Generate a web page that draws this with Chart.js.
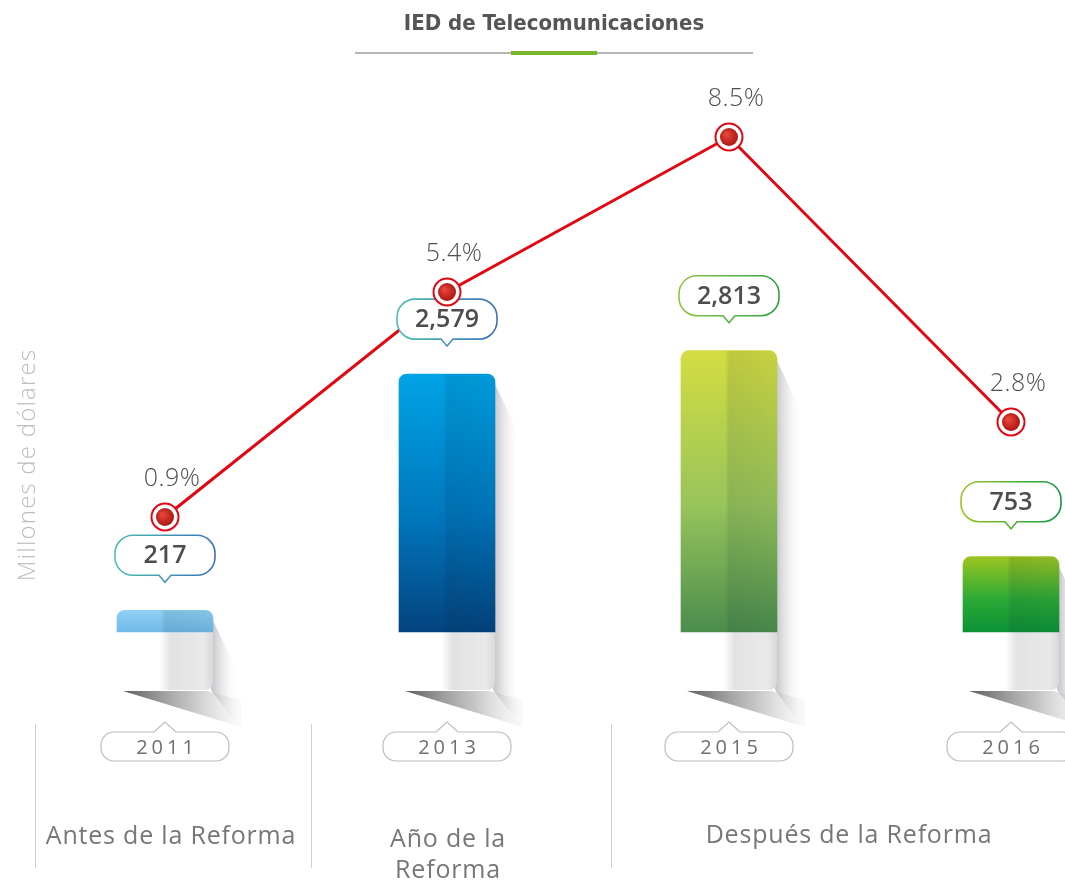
<!DOCTYPE html>
<html>
<head>
<meta charset="utf-8">
<script src="https://cdn.jsdelivr.net/npm/chart.js@4"></script>
<style>
  html, body { margin: 0; padding: 0; background: #fff; }
  canvas { display: block; }
</style>
</head>
<body>
<canvas id="iedChart" width="1065" height="880"></canvas>
<script>
// IED en telecomunicaciones: monto (barras) y participación (línea)
const years = ['2011', '2013', '2015', '2016'];
const inversion = [217, 2579, 2813, 753];      // millones de dólares
const participacion = [0.9, 5.4, 8.5, 2.8];    // % de la IED total
const periodos = ['Antes de la Reforma', 'Año de la\nReforma', 'Después de la Reforma'];

// gradientes de cada barra (arriba -> abajo)
const barStops = [
  ['#8fd0f3', '#7dc4ee', '#70bbe8'],
  ['#00a3e6', '#0077bd', '#04437f'],
  ['#d4dd41', '#97c45b', '#4b8d4d'],
  ['#9cc521', '#2eaa36', '#0b9236']
];
const calloutStroke = [
  ['#4cc0b0', '#3c6fb8'],
  ['#4cc0b0', '#3c6fb8'],
  ['#8cc63f', '#2ea043'],
  ['#9cc521', '#109a45']
];

const SANS = '"Open Sans", "Noto Sans", sans-serif';
const BAR = 3, LINE = 0;   // dataset indexes

function barFill(c) {
  if (c.type !== 'data' || !c.chart.chartArea) return barStops[0][0];
  const y = c.chart.scales.y;
  const top = y.getPixelForValue(inversion[c.dataIndex]);
  const bottom = y.getPixelForValue(0);
  const g = c.chart.ctx.createLinearGradient(0, top, 0, bottom);
  const s = barStops[c.dataIndex];
  g.addColorStop(0, s[0]);
  g.addColorStop(0.55, s[1]);
  g.addColorStop(1, s[2]);
  return g;
}

function dotFill(c) {
  if (c.type !== 'data' || !c.chart.chartArea) return '#c81e1e';
  const x = c.chart.scales.x.getPixelForValue(c.dataIndex);
  const y = c.chart.scales.y2.getPixelForValue(participacion[c.dataIndex]);
  const g = c.chart.ctx.createRadialGradient(x - 3, y - 3, 1, x, y, 10);
  g.addColorStop(0, '#e8463a');
  g.addColorStop(1, '#a8130f');
  return g;
}

// rounded box with optional pointer (down at bottom, up at top)
function bubble(ctx, cx, top, w, h, r, tipDown, tipUp, tipW) {
  const l = cx - w / 2, rt = cx + w / 2, b = top + h;
  ctx.beginPath();
  ctx.moveTo(l + r, top);
  if (tipUp) {
    ctx.lineTo(cx - tipW, top);
    ctx.lineTo(cx, top - tipUp);
    ctx.lineTo(cx + tipW, top);
  }
  ctx.lineTo(rt - r, top);
  ctx.arcTo(rt, top, rt, top + r, r);
  ctx.lineTo(rt, b - r);
  ctx.arcTo(rt, b, rt - r, b, r);
  if (tipDown) {
    ctx.lineTo(cx + tipW, b);
    ctx.lineTo(cx, b + tipDown);
    ctx.lineTo(cx - tipW, b);
  }
  ctx.lineTo(l + r, b);
  ctx.arcTo(l, b, l, b - r, r);
  ctx.lineTo(l, top + r);
  ctx.arcTo(l, top, l + r, top, r);
  ctx.closePath();
}

const decor = {
  id: 'decor',
  beforeDatasetsDraw(chart) {
    const ctx = chart.ctx;
    chart.getDatasetMeta(BAR).data.forEach(bar => {
      const l = bar.x - bar.width / 2, r = bar.x + bar.width / 2, t = bar.y, b = bar.base;
      ctx.save();
      // side shadow
      let g = ctx.createLinearGradient(r, 0, r + 26, 0);
      g.addColorStop(0, 'rgba(80,80,95,0.3)');
      g.addColorStop(1, 'rgba(255,255,255,0)');
      ctx.fillStyle = g;
      ctx.beginPath();
      ctx.moveTo(r - 2, t + 6);
      ctx.lineTo(r + 24, t + 60);
      ctx.lineTo(r + 24, b + 92);
      ctx.lineTo(r - 2, b + 58);
      ctx.closePath();
      ctx.fill();
      // floor shadow
      g = ctx.createLinearGradient(l, 0, r + 30, 0);
      g.addColorStop(0, 'rgba(70,70,70,0.95)');
      g.addColorStop(0.6, 'rgba(150,150,150,0.55)');
      g.addColorStop(1, 'rgba(225,225,225,0.15)');
      ctx.fillStyle = g;
      ctx.beginPath();
      ctx.moveTo(l + 6, b + 59);
      ctx.lineTo(r - 6, b + 59);
      ctx.lineTo(r + 28, b + 68);
      ctx.lineTo(r + 28, b + 95);
      ctx.closePath();
      ctx.fill();
      // pedestal
      g = ctx.createLinearGradient(l, 0, r, 0);
      g.addColorStop(0, '#ffffff');
      g.addColorStop(0.44, '#ffffff');
      g.addColorStop(0.56, '#e2e2e2');
      g.addColorStop(0.9, '#e9e9e9');
      g.addColorStop(1, '#d8d8d8');
      ctx.fillStyle = g;
      ctx.beginPath();
      ctx.roundRect(l + 2, b, r - l - 2, 58, [0, 0, 8, 0]);
      ctx.fill();
      ctx.restore();
    });
  },
  afterDatasetDraw(chart, args) {
    const ctx = chart.ctx;
    if (args.index === BAR) {
      // darker right half of each bar
      args.meta.data.forEach(bar => {
        const r = bar.x + bar.width / 2, t = bar.y, b = bar.base;
        ctx.save();
        const g = ctx.createLinearGradient(bar.x - 4, 0, r, 0);
        g.addColorStop(0, 'rgba(0,20,40,0)');
        g.addColorStop(0.08, 'rgba(0,20,40,0.1)');
        g.addColorStop(1, 'rgba(0,20,40,0.06)');
        ctx.fillStyle = g;
        ctx.beginPath();
        ctx.roundRect(bar.x - 4, t, r - bar.x + 4, b - t, [0, 8, 0, 0]);
        ctx.fill();
        ctx.restore();
      });
    }
    if (args.index === LINE) {
      // value callouts sit over the line but under the markers
      ctx.save();
      chart.getDatasetMeta(BAR).data.forEach((bar, i) => {
        const top = bar.y - 75;
        bubble(ctx, bar.x, top, 100, 40, 18, 7, 0, 6);
        ctx.fillStyle = '#fff';
        ctx.fill();
        const g = ctx.createLinearGradient(bar.x - 50, 0, bar.x + 50, 0);
        g.addColorStop(0, calloutStroke[i][0]);
        g.addColorStop(1, calloutStroke[i][1]);
        ctx.strokeStyle = g;
        ctx.lineWidth = 1.6;
        ctx.stroke();
        ctx.fillStyle = '#4d4d4d';
        ctx.font = '600 25px ' + SANS;
        ctx.textAlign = 'center';
        ctx.textBaseline = 'middle';
        ctx.fillText(inversion[i].toLocaleString('en-US'), bar.x, top + 21);
      });
      ctx.restore();
    }
  },
  afterDatasetsDraw(chart) {
    const ctx = chart.ctx;
    ctx.save();
    // percent labels
    ctx.font = '300 25px ' + SANS;
    ctx.fillStyle = '#4f4f4f';
    ctx.textAlign = 'center';
    ctx.textBaseline = 'middle';
    ctx.letterSpacing = '0.5px';
    chart.getDatasetMeta(LINE).data.forEach((pt, i) => {
      const label = participacion[i].toFixed(1) + '%';
      const w = ctx.measureText(label).width;
      const x = Math.min(pt.x + 7, chart.width - 4 - w / 2);
      ctx.fillText(label, x, pt.y - 38);
    });
    ctx.letterSpacing = '0px';
    ctx.restore();
  },
  afterDraw(chart) {
    const ctx = chart.ctx;
    ctx.save();
    // title + rule
    ctx.fillStyle = '#555';
    ctx.font = 'bold 22px "DejaVu Sans Condensed", "Liberation Sans Narrow", sans-serif';
    ctx.textAlign = 'center';
    ctx.textBaseline = 'middle';
    ctx.fillText('IED de Telecomunicaciones', 554, 24);
    ctx.strokeStyle = '#b5b5b5';
    ctx.lineWidth = 2;
    ctx.beginPath(); ctx.moveTo(355, 53); ctx.lineTo(753, 53); ctx.stroke();
    ctx.strokeStyle = '#78b82a';
    ctx.lineWidth = 4;
    ctx.beginPath(); ctx.moveTo(511, 53); ctx.lineTo(597, 53); ctx.stroke();

    // y axis title
    ctx.save();
    ctx.translate(28, 465);
    ctx.rotate(-Math.PI / 2);
    ctx.fillStyle = '#bdbdbd';
    ctx.font = '300 24px ' + SANS;
    ctx.letterSpacing = '1.2px';
    ctx.fillText('Millones de dólares', 0, 0);
    ctx.restore();

    // year tags
    const xs = chart.scales.x;
    years.forEach((yr, i) => {
      const cx = xs.getPixelForValue(i);
      bubble(ctx, cx, 732, 128, 29, 13, 0, 10, 11);
      ctx.fillStyle = '#fff';
      ctx.fill();
      ctx.strokeStyle = '#bcbcbc';
      ctx.lineWidth = 1.2;
      ctx.stroke();
      ctx.fillStyle = '#6f6f6f';
      ctx.font = '500 20px ' + SANS;
      ctx.letterSpacing = '4px';
      ctx.fillText(yr, cx + 2, 748);
      ctx.letterSpacing = '0px';
    });

    // period separators and labels
    ctx.strokeStyle = '#cfcfcf';
    ctx.lineWidth = 1;
    [35, 311, 611].forEach(x => {
      ctx.beginPath(); ctx.moveTo(x + 0.5, 724); ctx.lineTo(x + 0.5, 868); ctx.stroke();
    });
    ctx.fillStyle = '#777';
    ctx.font = '25px ' + SANS;
    ctx.letterSpacing = '0.8px';
    const labelX = [171, 448, 849];
    const labelY = [837, 840, 836];
    periodos.forEach((p, i) => {
      p.split('\n').forEach((line, k) => ctx.fillText(line, labelX[i], labelY[i] + k * 31));
    });
    ctx.letterSpacing = '0px';
    ctx.restore();
  }
};

new Chart(document.getElementById('iedChart'), {
  type: 'bar',
  data: {
    labels: years,
    datasets: [
      {
        type: 'line',
        label: 'Participación',
        data: participacion,
        yAxisID: 'y2',
        borderColor: '#e30613',
        borderWidth: 3,
        tension: 0,
        pointRadius: 0,
        clip: false,
        order: 2
      },
      {
        type: 'line',
        label: 'aro',
        data: participacion,
        yAxisID: 'y2',
        showLine: false,
        pointRadius: 13.5,
        pointBackgroundColor: '#fff',
        pointBorderColor: '#e30613',
        pointBorderWidth: 2,
        clip: false,
        order: 1
      },
      {
        type: 'line',
        label: 'punto',
        data: participacion,
        yAxisID: 'y2',
        showLine: false,
        pointRadius: 9,
        pointBorderWidth: 0,
        pointBackgroundColor: dotFill,
        clip: false,
        order: 0
      },
      {
        type: 'bar',
        label: 'IED',
        data: inversion,
        yAxisID: 'y',
        backgroundColor: barFill,
        barThickness: 96,
        borderRadius: { topLeft: 8, topRight: 8, bottomLeft: 0, bottomRight: 0 },
        borderSkipped: 'start',
        clip: false,
        order: 3
      }
    ]
  },
  options: {
    responsive: false,
    animation: false,
    layout: { padding: { left: 165, right: 54, top: 60, bottom: 248 } },
    plugins: { legend: { display: false }, tooltip: { enabled: false }, title: { display: false } },
    scales: {
      x: { display: false, offset: false, grid: { display: false } },
      y: { display: false, min: 0, max: 5720 },
      y2: { display: false, min: -1.4, max: 10.04 }
    }
  },
  plugins: [decor]
});
</script>
</body>
</html>
